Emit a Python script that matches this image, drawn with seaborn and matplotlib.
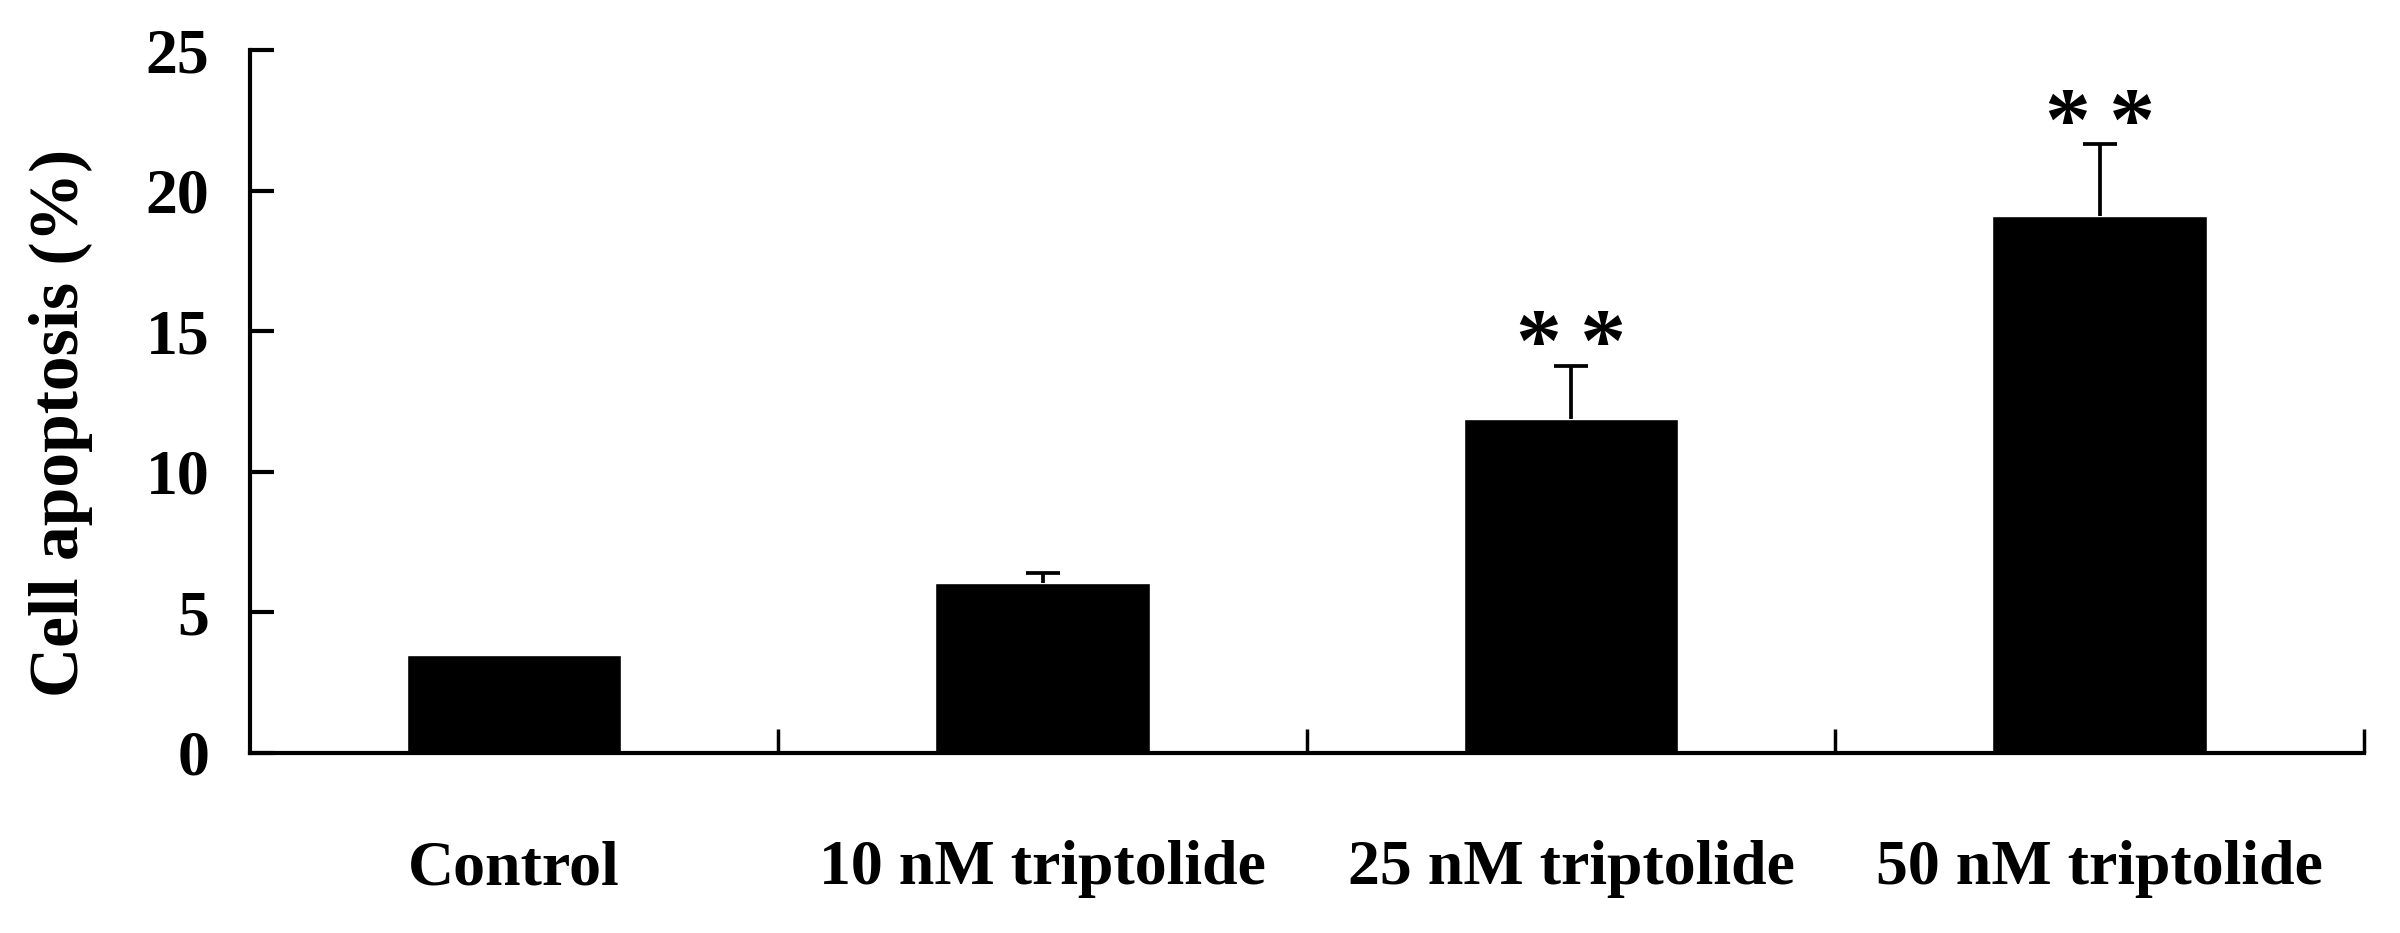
import matplotlib
matplotlib.use('Agg')
import matplotlib.pyplot as plt
import seaborn as sns
import pandas as pd

# values
groups = ['Control', '10 nM triptolide', '25 nM triptolide', '50 nM triptolide']
apoptosis = [3.5, 6.05, 11.9, 19.1]
sd = [0.0, 0.36, 1.88, 2.57]
marks = ['', '', '*\u2009*', '*\u2009*']

sns.set_style('ticks')
plt.rcParams['font.family'] = ['Liberation Serif', 'DejaVu Serif']
plt.rcParams['font.weight'] = 'bold'
plt.rcParams['text.color'] = 'black'
plt.rcParams['axes.labelcolor'] = 'black'
plt.rcParams['xtick.color'] = 'black'
plt.rcParams['ytick.color'] = 'black'

df = pd.DataFrame({'group': groups, 'apoptosis': apoptosis})

fig, ax = plt.subplots(figsize=(24, 9.33), dpi=100)
fig.subplots_adjust(left=0.104, right=0.985, bottom=0.193, top=0.946)

sns.barplot(data=df, x='group', y='apoptosis', color='black', saturation=1,
            width=0.406, errorbar=None, ax=ax)

# upper error bars and significance marks on top of the bars
for p, m, e, mk in zip(ax.patches, apoptosis, sd, marks):
    xc = p.get_x() + p.get_width() / 2
    if e > 0:
        eb = ax.errorbar([xc], [m], yerr=[[0], [e]], fmt='none', ecolor='black',
                         elinewidth=2.7, capsize=12, capthick=2.7)
        eb[1][0].set_visible(False)  # no cap at the bottom end
    if mk:
        ax.annotate(mk, xy=(xc, m + e), xytext=(0, -4), textcoords='offset points',
                    ha='center', va='baseline', fontsize=66, fontweight='bold')

ax.set_xlim(-0.5, 3.5)
ax.set_ylim(0, 25)
ax.set_yticks([0, 5, 10, 15, 20, 25])
ax.set_xticks([0.5, 1.5, 2.5, 3.5], minor=True)

sns.despine(ax=ax)
for s in ['left', 'bottom']:
    ax.spines[s].set_linewidth(3)
    ax.spines[s].set_color('black')

ax.tick_params(axis='y', direction='in', length=17, width=3, pad=29, labelsize=46)
ax.tick_params(axis='x', which='major', length=0, pad=63, labelsize=46)
ax.tick_params(axis='x', which='minor', direction='in', length=17, width=2.5)

ax.set_xlabel('')
ax.set_ylabel('Cell apoptosis (%)', fontsize=50, fontweight='bold')
ax.yaxis.set_label_coords(-0.074, 0.47)

fig.savefig('out.png', dpi=100)
